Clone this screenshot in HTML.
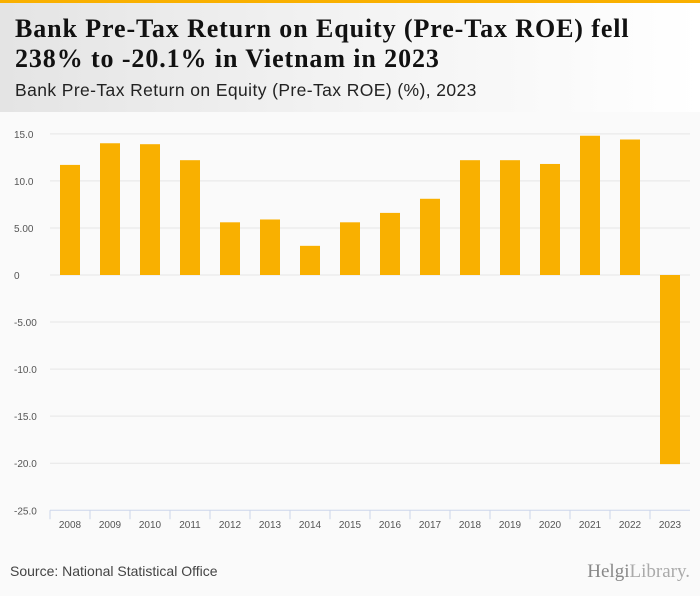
<!DOCTYPE html>
<html><head><meta charset="utf-8"><style>
body{margin:0;width:700px;height:596px;overflow:hidden;background:#fafafa;font-family:"Liberation Sans",sans-serif;position:relative}
#bar{position:absolute;left:0;top:0;width:700px;height:3px;background:#f9b000}
#hdr{position:absolute;left:0;top:3px;width:700px;height:109px;background:linear-gradient(90deg,#e4e4e4,#f3f3f3 50%,#fff)}
#t{position:absolute;left:15px;top:14px;font-family:"Liberation Serif",serif;font-weight:bold;font-size:26px;line-height:30px;color:#111;letter-spacing:0.9px}
#st{position:absolute;left:15px;top:80px;font-size:17.5px;color:#222;letter-spacing:0.4px}
#src{position:absolute;left:10px;top:563px;font-size:14px;color:#444}
#logo{position:absolute;right:10px;top:561px;font-family:"Liberation Serif",serif;font-size:19px;color:#888}
</style></head><body>
<div id="bar"></div>
<div id="hdr"></div>
<div id="t">Bank Pre-Tax Return on Equity (Pre-Tax ROE) fell<br>238% to -20.1% in Vietnam in 2023</div>
<div id="st">Bank Pre-Tax Return on Equity (Pre-Tax ROE) (%), 2023</div>
<svg id="c" width="700" height="596" style="position:absolute;left:0;top:0"></svg>
<div id="src">Source: National Statistical Office</div>
<div id="logo">Helgi<span style="color:#aaa">Library.</span></div>
<script>
const categories=["2008","2009","2010","2011","2012","2013","2014","2015","2016","2017","2018","2019","2020","2021","2022","2023"];
const values=[11.7,14.0,13.9,12.2,5.6,5.9,3.1,5.6,6.6,8.1,12.2,12.2,11.8,14.8,14.4,-20.1];
const tickValues=[15,10,5,0,-5,-10,-15,-20,-25];
const tickLabels=["15.0","10.0","5.00","0","-5.00","-10.0","-15.0","-20.0","-25.0"];
const svg=document.getElementById('c');const NS='http://www.w3.org/2000/svg';
const x0=50,x1=690,bw=(x1-x0)/categories.length;
const y=v=>275-v*9.41;
function mk(t,a){const e=document.createElementNS(NS,t);for(const k in a)e.setAttribute(k,a[k]);svg.appendChild(e);return e;}
tickValues.forEach((v,i)=>{
 if(v!==-25){const g=mk('line',{x1:x0,x2:x1,y1:y(v),y2:y(v),stroke:'#e6e6e6','stroke-width':1});
 
 }
 const t=mk('text',{x:14,y:y(v)+4,'font-size':10,fill:'#555','font-family':'Liberation Sans,sans-serif'});t.textContent=tickLabels[i];
 
 
});
const ax=mk('line',{x1:x0,x2:x1,y1:y(-25),y2:y(-25),stroke:'#ccd6eb'});


categories.forEach((c,i)=>{
 const cx=x0+bw*(i+0.5),v=values[i];
 const tk=mk('line',{x1:x0+bw*i,x2:x0+bw*i,y1:y(-25),y2:y(-25)+9,stroke:'#ccd6eb'});
 
 
 const r=mk('rect',{x:cx-10,y:Math.min(y(v),y(0)),width:20,height:Math.abs(y(v)-y(0)),fill:'#f9b000'});
 
 
 const t=mk('text',{x:cx,y:528,'text-anchor':'middle','font-size':10,fill:'#555','font-family':'Liberation Sans,sans-serif'});t.textContent=c;
 
 
});
</script>
</body></html>
